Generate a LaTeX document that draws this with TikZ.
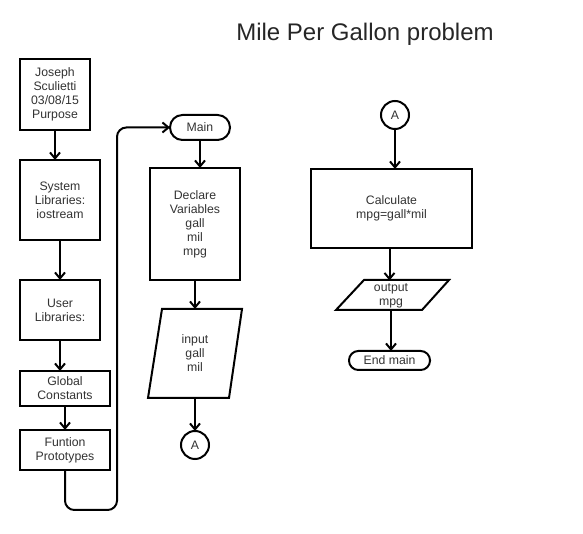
\documentclass[tikz,border=0pt]{standalone}
\usepackage{fontspec}
\setmainfont{Liberation Sans}
\usetikzlibrary{arrows.meta,calc}
\begin{document}
\begin{tikzpicture}[x=0.75pt,y=-0.75pt,
  line width=1.5pt,
  every node/.style={inner sep=0pt,outer sep=0pt},
  txt/.style={font=\fontsize{9.2pt}{10.5pt}\selectfont,align=center,text=black!80},
  box/.style={txt,draw,line width=1.5pt,fill=white},
  term/.style={box,rounded corners=9.5pt},
  conn/.style={box,circle,minimum size=28*0.75pt},
  arr/.style={-{Straight Barb[length=4.5pt,width=7.5pt,line width=1.5pt]},line width=1.5pt},
]
\useasboundingbox (0,0) rectangle (583,534);
\node[font=\fontsize{18pt}{21pt}\selectfont,text=black!85] (title) at (365,34) {Mile Per Gallon problem};

\node[box,minimum width=70*0.75pt,minimum height=71*0.75pt] (hdr) at (55,94.5) {Joseph\\Sculietti\\03/08/15\\Purpose};
\node[box,minimum width=80*0.75pt,minimum height=80*0.75pt] (sys) at (60,200) {System\\Libraries:\\iostream};
\node[box,minimum width=80*0.75pt,minimum height=60*0.75pt] (usr) at (60,310) {User\\Libraries:};
\node[box,minimum width=90*0.75pt,minimum height=35*0.75pt] (glob) at (65,388.5) {Global\\Constants};
\node[box,minimum width=90*0.75pt,minimum height=40*0.75pt] (proto) at (65,450) {Funtion\\Prototypes};

\node[term,minimum width=60*0.75pt,minimum height=25*0.75pt,rounded corners=9.3pt] (main) at (200,127.5) {Main};
\node[box,minimum width=90*0.75pt,minimum height=112*0.75pt] (decl) at (195,224) {Declare\\Variables\\gall\\mil\\mpg};
\draw[line width=1.5pt,fill=white] (162,309) -- (242,309) -- (229,398) -- (148,398) -- cycle;
\node[txt,minimum width=80*0.75pt,minimum height=89*0.75pt] (inp) at (195,353.5) {input\\gall\\mil};
\node[conn] (a1) at (195,445) {A};

\node[conn] (a2) at (395,115) {A};
\node[box,minimum width=161*0.75pt,minimum height=79*0.75pt] (calc) at (391.5,208.5) {Calculate\\mpg=gall*mil};
\draw[line width=1.5pt,fill=white] (364,280) -- (449,280) -- (422,310) -- (336,310) -- cycle;
\node[txt,minimum width=80*0.75pt,minimum height=30*0.75pt] (out) at (391,295.5) {output\\mpg};
\node[term,minimum width=81*0.75pt,minimum height=19*0.75pt,rounded corners=7pt] (endm) at (389.5,360.5) {End main};

\draw[arr] (hdr.south) -- (hdr.south |- sys.north);
\draw[arr] (sys.south) -- (sys.south |- usr.north);
\draw[arr] (usr.south) -- (usr.south |- glob.north);
\draw[arr] (glob.south) -- (glob.south |- proto.north);
\coordinate (lb) at (117,510);
\draw[arr,rounded corners=7pt] (proto.south) -- (proto.south |- lb) -- (lb) -- (lb |- main.west) -- (main.west);
\draw[arr] (main.south) -- (main.south |- decl.north);
\draw[arr] (decl.south) -- (decl.south |- inp.north);
\draw[arr] (inp.south) -- (inp.south |- a1.north);
\draw[arr] (a2.south) -- (a2.south |- calc.north);
\draw[arr] ([xshift=-1.5pt]calc.south) -- ([xshift=-1.5pt]calc.south |- out.north);
\draw[arr] (out.south) -- (out.south |- endm.north);
\end{tikzpicture}
\end{document}
